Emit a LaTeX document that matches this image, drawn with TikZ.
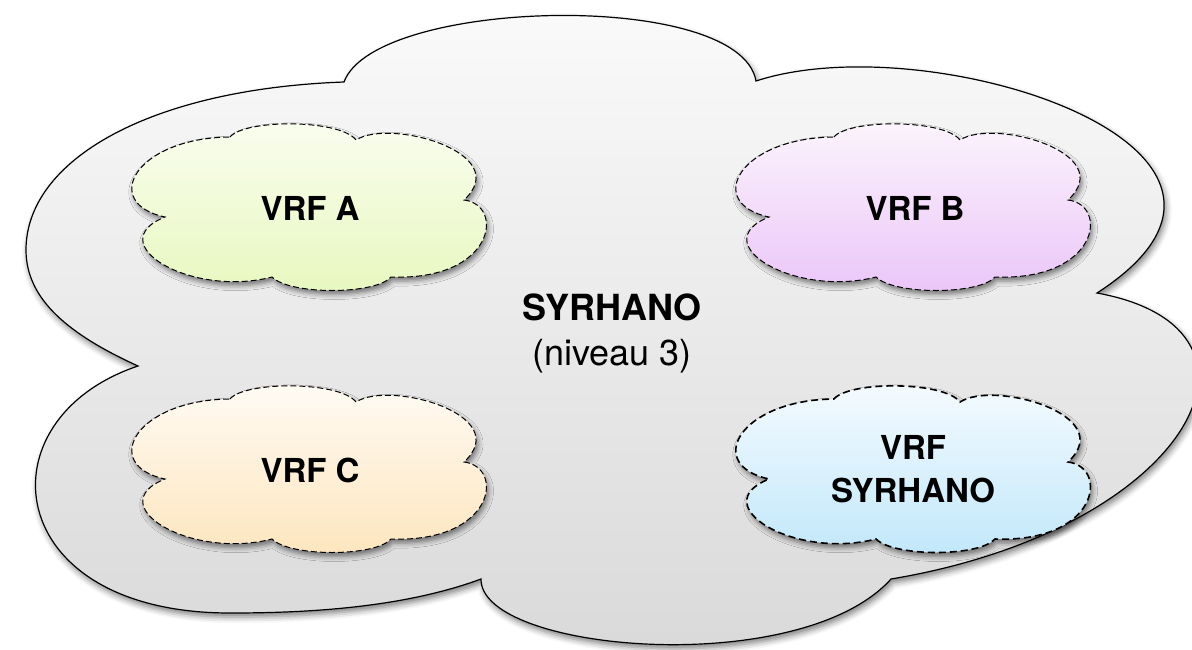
\documentclass[tikz,border=0pt]{standalone}
\usepackage{fontspec}
\setmainfont{TeX Gyre Heros}
\usetikzlibrary{shadows.blur}
\definecolor{bigtop}{RGB}{251,251,251}
\definecolor{bigbot}{RGB}{216,216,216}
\definecolor{atop}{RGB}{250,253,240}
\definecolor{abot}{RGB}{231,248,190}
\definecolor{btop}{RGB}{252,245,253}
\definecolor{bbot}{RGB}{234,196,248}
\definecolor{ctop}{RGB}{255,251,245}
\definecolor{cbot}{RGB}{253,229,188}
\definecolor{stop}{RGB}{245,251,255}
\definecolor{sbot}{RGB}{192,231,250}
\newcommand\vrfcloud[1]{%
  \path[#1] (100,14) .. controls (115,-4) and (210,-4) .. (226,17)
    .. controls (260,-5) and (385,30) .. (334,77)
    .. controls (375,82) and (365,158) .. (261,154)
    .. controls (245,172) and (160,172) .. (142,154)
    .. controls (60,175) and (-30,120) .. (35,94)
    .. controls (-30,80) and (5,15) .. (100,14) -- cycle;}
\tikzset{
  bigcloud/.style={draw=black, line width=1.2pt, top color=bigtop, bottom color=bigbot,
    blur shadow={shadow xshift=2pt, shadow yshift=-4pt, shadow blur radius=6pt, shadow opacity=50}},
  vrfcloud/.style={draw=black, line width=1pt, dash pattern=on 6pt off 3pt,
    blur shadow={shadow xshift=2pt, shadow yshift=-4pt, shadow blur radius=5pt, shadow opacity=50}},
  thickvrf/.style={line width=1.6pt, dash pattern=on 7pt off 4pt},
  smalllabel/.style={font=\fontsize{33}{43}\selectfont\bfseries, align=center, inner sep=0pt},
  mainlabel/.style={font=\fontsize{36}{45}\selectfont, align=center, inner sep=0pt}
}
\begin{document}
\begin{tikzpicture}[x=1pt, y=-1pt]
\useasboundingbox (0,0) rectangle (1192,649);
% outer cloud
\path[bigcloud] (344,82) .. controls (375,-2) and (740,-11) .. (756,81)
  .. controls (930,24) and (1320,149) .. (1097,293)
  .. controls (1295,329) and (1190,529) .. (891,579)
  .. controls (800,680) and (480,652) .. (481,579)
  .. controls (400,609) and (300,613) .. (230,613)
  .. controls (0,613) and (-20,419) .. (138,366)
  .. controls (70,335) and (26,300) .. (26,250)
  .. controls (26,160) and (150,89) .. (344,82) -- cycle;
% inner clouds
\begin{scope}[shift={(130,123)}]
  \vrfcloud{vrfcloud, top color=atop, bottom color=abot}
\end{scope}
\begin{scope}[shift={(734,123)}]
  \vrfcloud{vrfcloud, top color=btop, bottom color=bbot}
\end{scope}
\begin{scope}[shift={(130,385)}]
  \vrfcloud{vrfcloud, top color=ctop, bottom color=cbot}
\end{scope}
\begin{scope}[shift={(734,385)}]
  \vrfcloud{vrfcloud, thickvrf, top color=stop, bottom color=sbot}
\end{scope}
% labels
\node[mainlabel] (main) at (612,333) {\textbf{SYRHANO}\\(niveau 3)};
\node[smalllabel] (vrfa) at (310,208) {VRF A};
\node[smalllabel] (vrfb) at (915,208) {VRF B};
\node[smalllabel] (vrfc) at (310,470) {VRF C};
\node[smalllabel] (vrfs) at (913,469) {VRF\\SYRHANO};
\end{tikzpicture}
\end{document}
